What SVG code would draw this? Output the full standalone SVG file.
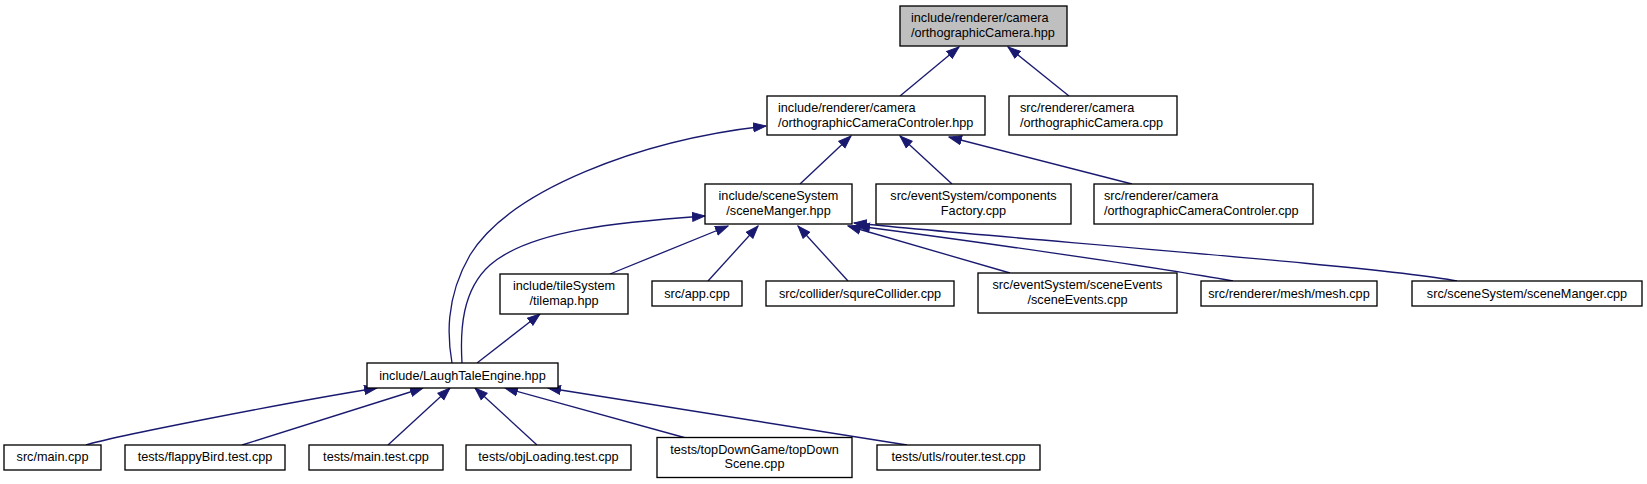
<svg xmlns="http://www.w3.org/2000/svg" width="1647" height="484" viewBox="0 0 1647 484">
<style>
.n rect{fill:#ffffff;stroke:#000000;stroke-width:1.33}
.n text{font-family:"Liberation Sans",Arial,sans-serif;font-size:12.7px;fill:#000000}
.c{text-anchor:middle}
.e path{fill:none;stroke:#191970;stroke-width:1.33;marker-end:url(#ah)}
</style>
<defs>
<marker id="ah" markerUnits="userSpaceOnUse" markerWidth="14" markerHeight="11" refX="13" refY="5.5" orient="auto">
<path d="M0.5,1 L13,5.5 L0.5,10 z" fill="#191970" stroke="#191970" stroke-width="1"/>
</marker>
</defs>
<rect x="0" y="0" width="1647" height="484" fill="#ffffff"/>
<g class="e" id="edges">
<path d="M900,96 L959,47"/>
<path d="M1069,96 L1008,47"/>
<path d="M452,363 C448,340 444,300 470,255 C510,190 640,140 766,126"/>
<path d="M800,184 L851,136"/>
<path d="M952,184 L900,136"/>
<path d="M1132,184 L949,137"/>
<path d="M462,363 C460,330 462,290 490,265 C530,230 620,222 705,216"/>
<path d="M610,274 L728,226"/>
<path d="M708,281 L758,226"/>
<path d="M848,281 L798,226"/>
<path d="M1010,273 L848,226"/>
<path d="M1233,281 C1150,266 950,238 857,226"/>
<path d="M1457,281 C1380,266 1000,238 854,223"/>
<path d="M477,363 L540,314"/>
<path d="M86,445 C110,437 290,402 377,388"/>
<path d="M242,445 L423,388"/>
<path d="M388,445 L450,388"/>
<path d="M537,445 L475,388"/>
<path d="M686,438 L505,388"/>
<path d="M907,445 L548,388"/>
</g>
<g class="n" id="n0"><rect x="900" y="6" width="167" height="40" style="fill:#bfbfbf"/><text x="911" y="22">include/renderer/camera</text><text x="911" y="36.5">/orthographicCamera.hpp</text></g>
<g class="n" id="n1"><rect x="767" y="96" width="218" height="39"/><text x="778" y="112">include/renderer/camera</text><text x="778" y="126.5">/orthographicCameraControler.hpp</text></g>
<g class="n" id="n2"><rect x="1009" y="96" width="168" height="39"/><text x="1020" y="112">src/renderer/camera</text><text x="1020" y="126.5">/orthographicCamera.cpp</text></g>
<g class="n" id="n3"><rect x="705" y="184" width="147" height="40"/><text class="c" x="778.5" y="200">include/sceneSystem</text><text class="c" x="778.5" y="214.5">/sceneManger.hpp</text></g>
<g class="n" id="n4"><rect x="876" y="184" width="195" height="40"/><text class="c" x="973.5" y="200">src/eventSystem/components</text><text class="c" x="973.5" y="214.5">Factory.cpp</text></g>
<g class="n" id="n5"><rect x="1094" y="184" width="219" height="40"/><text x="1104" y="200">src/renderer/camera</text><text x="1104" y="214.5">/orthographicCameraControler.cpp</text></g>
<g class="n" id="n6"><rect x="500" y="274" width="128" height="40"/><text class="c" x="564" y="290">include/tileSystem</text><text class="c" x="564" y="304.5">/tilemap.hpp</text></g>
<g class="n" id="n7"><rect x="652" y="281" width="90" height="25"/><text class="c" x="697" y="297.5">src/app.cpp</text></g>
<g class="n" id="n8"><rect x="766" y="281" width="188" height="25"/><text class="c" x="860" y="297.5">src/collider/squreCollider.cpp</text></g>
<g class="n" id="n9"><rect x="978" y="273" width="199" height="40"/><text class="c" x="1077.5" y="289">src/eventSystem/sceneEvents</text><text class="c" x="1077.5" y="303.5">/sceneEvents.cpp</text></g>
<g class="n" id="n10"><rect x="1201" y="281" width="176" height="25"/><text class="c" x="1289" y="297.5">src/renderer/mesh/mesh.cpp</text></g>
<g class="n" id="n11"><rect x="1412" y="281" width="230" height="25"/><text class="c" x="1527" y="297.5">src/sceneSystem/sceneManger.cpp</text></g>
<g class="n" id="n12"><rect x="367" y="363" width="191" height="25"/><text class="c" x="462.5" y="379.5">include/LaughTaleEngine.hpp</text></g>
<g class="n" id="n13"><rect x="4" y="445" width="97" height="25"/><text class="c" x="52.5" y="461">src/main.cpp</text></g>
<g class="n" id="n14"><rect x="125" y="445" width="160" height="25"/><text class="c" x="205" y="461">tests/flappyBird.test.cpp</text></g>
<g class="n" id="n15"><rect x="309" y="445" width="134" height="25"/><text class="c" x="376" y="461">tests/main.test.cpp</text></g>
<g class="n" id="n16"><rect x="466" y="445" width="165" height="25"/><text class="c" x="548.5" y="461">tests/objLoading.test.cpp</text></g>
<g class="n" id="n17"><rect x="657" y="437.5" width="195" height="40"/><text class="c" x="754.5" y="453.5">tests/topDownGame/topDown</text><text class="c" x="754.5" y="468">Scene.cpp</text></g>
<g class="n" id="n18"><rect x="877" y="445" width="163" height="25"/><text class="c" x="958.5" y="461">tests/utls/router.test.cpp</text></g>
</svg>
